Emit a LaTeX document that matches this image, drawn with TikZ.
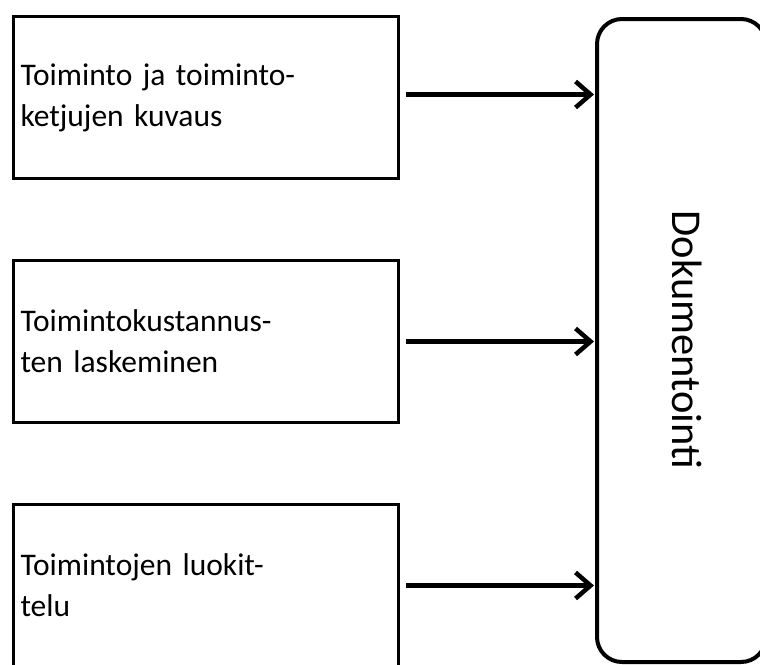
\documentclass[tikz,border=0pt]{standalone}
\usepackage{fontspec}
\setmainfont{Carlito}
\usetikzlibrary{arrows.meta}
\begin{document}
\begin{tikzpicture}[x=1pt,y=-1pt,
  leftbox/.style={draw, line width=3pt, minimum width=385pt, minimum height=162pt,
    text width=371pt, inner xsep=7pt, inner ysep=0pt, align=left,
    font=\fontsize{31.5}{41}\selectfont, anchor=north west},
  docbox/.style={draw, line width=4pt, rounded corners=25pt, minimum width=169pt,
    minimum height=643pt, anchor=north west, inner sep=0pt},
  doctext/.style={font=\fontsize{42.5}{48}\selectfont, rotate=-90, inner sep=0pt},
  arr/.style={line width=4.5pt, -{Straight Barb[length=15pt,width=26pt]}, shorten <=6pt, shorten >=1pt}]
\useasboundingbox (0,0) rectangle (760,664);
\clip (0,0) rectangle (760,664);
\fill[white] (0,0) rectangle (760,664);
\node[leftbox] (b1) at (12,15) {Toiminto ja toiminto-\\ketjujen kuvaus};
\node[leftbox] (b2) at (12,259) {Toimintokustannus-\\ten laskeminen};
\node[leftbox] (b3) at (12,503) {Toimintojen luokit-\\telu};
\node[docbox] (doc) at (595,17) {};
\node[doctext] (dt) at (687,340) {Dokumentointi};
\draw[arr] ([yshift=3pt]b1.east) -- ([yshift=3pt]b1.east -| doc.west);
\draw[arr] (b2.east) -- (b2.east -| doc.west);
\draw[arr] (b3.east) -- (b3.east -| doc.west);
\end{tikzpicture}
\end{document}
